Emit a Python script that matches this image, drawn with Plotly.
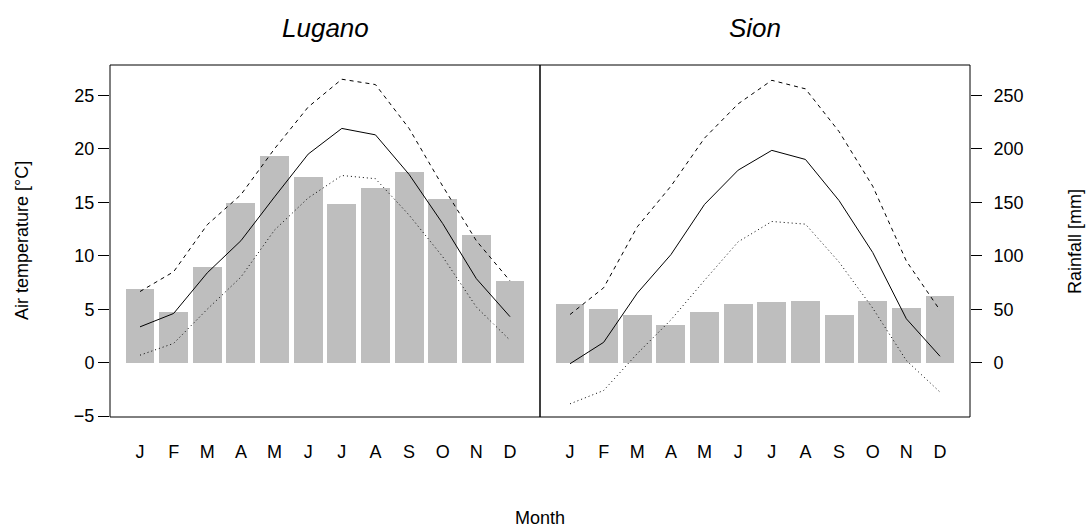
import plotly.graph_objects as go

# Monthly climate normals for two Swiss stations
month_pos = list(range(1, 13))
month_labels = ["J", "F", "M", "A", "M", "J", "J", "A", "S", "O", "N", "D"]

lugano_rain = [69, 47, 89, 149, 193, 174, 148, 163, 178, 153, 119, 76]
lugano_tmean = [3.35, 4.6, 8.4, 11.4, 15.5, 19.5, 21.9, 21.3, 17.6, 13.0, 7.85, 4.3]
lugano_tmax = [6.65, 8.5, 12.9, 15.7, 20.0, 23.9, 26.5, 26.0, 21.9, 16.5, 11.4, 7.65]
lugano_tmin = [0.7, 1.8, 5.0, 8.0, 12.4, 15.4, 17.5, 17.2, 13.8, 9.9, 5.2, 2.1]

sion_rain = [55, 50, 45, 35, 47, 55, 57, 58, 45, 58, 51, 62]
sion_tmean = [-0.1, 1.9, 6.5, 10.1, 14.8, 18.0, 19.85, 19.0, 15.15, 10.3, 4.1, 0.6]
sion_tmax = [4.5, 7.0, 12.7, 16.5, 21.0, 24.2, 26.4, 25.6, 21.6, 16.5, 9.5, 4.9]
sion_tmin = [-3.85, -2.6, 0.85, 4.0, 7.7, 11.3, 13.2, 12.95, 9.4, 5.1, 0.2, -2.75]

temp_ticks = [-5, 0, 5, 10, 15, 20, 25]
rain_ticks = [0, 50, 100, 150, 200, 250]

# temperature and rainfall share one scale: 10 mm per degree
temp_range = [-5.08, 27.83]
rain_range = [v * 10 for v in temp_range]
x_range = [0.108, 12.892]

FONT = "Liberation Sans, Arial, Helvetica, sans-serif"
BAR_COLOR = "#BEBEBE"

fig = go.Figure()

panels = [
    # (x axis, rainfall axis, temperature axis, data)
    ("x", "y", "y2", lugano_rain, lugano_tmean, lugano_tmax, lugano_tmin),
    ("x2", "y3", "y4", sion_rain, sion_tmean, sion_tmax, sion_tmin),
]

for xa, ya_rain, ya_temp, rain, tmean, tmax, tmin in panels:
    fig.add_trace(go.Bar(
        x=month_pos, y=rain, xaxis=xa, yaxis=ya_rain,
        width=0.86, marker=dict(color=BAR_COLOR, line=dict(width=0)),
        showlegend=False, hoverinfo="skip",
    ))
    fig.add_trace(go.Scatter(
        x=month_pos, y=tmax, xaxis=xa, yaxis=ya_temp, mode="lines",
        line=dict(color="black", width=1, dash="4px,4px"), showlegend=False,
    ))
    fig.add_trace(go.Scatter(
        x=month_pos, y=tmean, xaxis=xa, yaxis=ya_temp, mode="lines",
        line=dict(color="black", width=1), showlegend=False,
    ))
    fig.add_trace(go.Scatter(
        x=month_pos, y=tmin, xaxis=xa, yaxis=ya_temp, mode="lines",
        line=dict(color="black", width=1, dash="1px,3px"), showlegend=False,
    ))

tick_font = dict(family=FONT, size=18, color="black")

xaxis_common = dict(
    range=x_range, tickmode="array", tickvals=month_pos, ticktext=month_labels,
    ticks="outside", ticklen=18, tickcolor="rgba(0,0,0,0)",
    showgrid=False, zeroline=False, showline=False, tickfont=tick_font,
    fixedrange=True,
)

fig.update_layout(
    width=1088, height=529,
    margin=dict(l=110, r=118, t=65, b=112),
    paper_bgcolor="white", plot_bgcolor="white",
    font=dict(family=FONT, color="black"),
    bargap=0,
    xaxis=dict(domain=[0, 0.5], anchor="y", **xaxis_common),
    xaxis2=dict(domain=[0.5, 1], anchor="y3", **xaxis_common),
    yaxis=dict(anchor="x", range=rain_range, visible=False),
    yaxis2=dict(
        anchor="x", overlaying="y", side="left", range=temp_range,
        tickmode="array", tickvals=temp_ticks, ticks="outside", ticklen=11,
        tickcolor="black", showgrid=False, zeroline=False, showline=False,
        tickfont=tick_font,
    ),
    yaxis3=dict(
        anchor="x2", side="right", range=rain_range,
        tickmode="array", tickvals=rain_ticks, ticks="outside", ticklen=11,
        tickcolor="black", showgrid=False, zeroline=False, showline=False,
        tickfont=tick_font, ticklabelstandoff=8,
    ),
    yaxis4=dict(anchor="x2", overlaying="y3", range=temp_range, visible=False),
)

# panel frames
for x0, x1 in [(0, 0.5), (0.5, 1)]:
    fig.add_shape(type="rect", xref="paper", yref="paper",
                  x0=x0, x1=x1, y0=0, y1=1,
                  line=dict(color="black", width=1), layer="above")

annotations = [
    dict(text="<i>Lugano</i>", x=0.25, y=1.105, font=dict(size=26)),
    dict(text="<i>Sion</i>", x=0.75, y=1.105, font=dict(size=26)),
    dict(text="Month", x=0.5, y=-0.287, font=dict(size=18)),
    dict(text="Air temperature [°C]", x=-0.1023, y=0.5, textangle=-90,
         font=dict(size=18)),
    dict(text="Rainfall [mm]", x=1.122, y=0.5, textangle=-90,
         font=dict(size=18)),
]
for a in annotations:
    fig.add_annotation(xref="paper", yref="paper", showarrow=False,
                       xanchor="center", yanchor="middle",
                       font=dict(family=FONT, color="black", size=a["font"]["size"]),
                       text=a["text"], x=a["x"], y=a["y"],
                       textangle=a.get("textangle", 0))

fig.write_html("out.html")
